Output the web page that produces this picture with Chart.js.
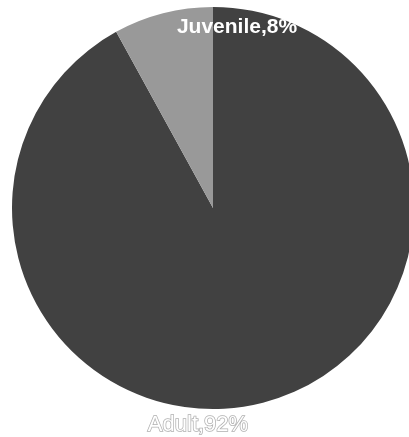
<!DOCTYPE html>
<html>
<head>
<meta charset="utf-8">
<script src="https://cdn.jsdelivr.net/npm/chart.js@4"></script>
<style>
  html, body { margin: 0; padding: 0; background: #fff; overflow: hidden; }
  #wrap { width: 426px; height: 437px; }
</style>
</head>
<body>
<div id="wrap"><canvas id="pie" width="426" height="437"></canvas></div>
<script>
// data
const categories = ['Adult', 'Juvenile'];
const shares = [92, 8];
const sliceColors = ['#414141', '#999999'];

// label text drawn next to the pie rim
const rimLabels = {
    id: 'rimLabels',
    afterDatasetsDraw(chart) {
        const arc = chart.getDatasetMeta(0).data[0];
        const cx = arc.x, cy = arc.y, r = arc.outerRadius;
        const ctx = chart.ctx;
        ctx.save();
        ctx.textAlign = 'center';
        ctx.textBaseline = 'alphabetic';

        // Juvenile, white inside the pie near the top
        ctx.font = 'bold 21px "Liberation Sans", Arial, sans-serif';
        ctx.fillStyle = '#ffffff';
        ctx.fillText(categories[1] + ',' + shares[1] + '%', cx + 24, cy - r + 26);

        // Adult, outlined below the pie
        ctx.font = '22px "Liberation Sans", Arial, sans-serif';
        ctx.lineWidth = 1.5;
        ctx.strokeStyle = '#b0b0b0';
        ctx.strokeText(categories[0] + ',' + shares[0] + '%', cx - 15, cy + r + 22);
        ctx.fillStyle = '#ffffff';
        ctx.fillText(categories[0] + ',' + shares[0] + '%', cx - 15, cy + r + 22);
        ctx.restore();
    }
};

new Chart(document.getElementById('pie'), {
    type: 'pie',
    data: {
        labels: categories,
        datasets: [{
            data: shares,
            backgroundColor: sliceColors,
            borderWidth: 0
        }]
    },
    options: {
        responsive: false,
        animation: false,
        layout: { padding: { top: 7, bottom: 28, left: 12, right: 12 } },
        plugins: {
            legend: { display: false },
            tooltip: { enabled: false }
        }
    },
    plugins: [rimLabels]
});
</script>
</body>
</html>
